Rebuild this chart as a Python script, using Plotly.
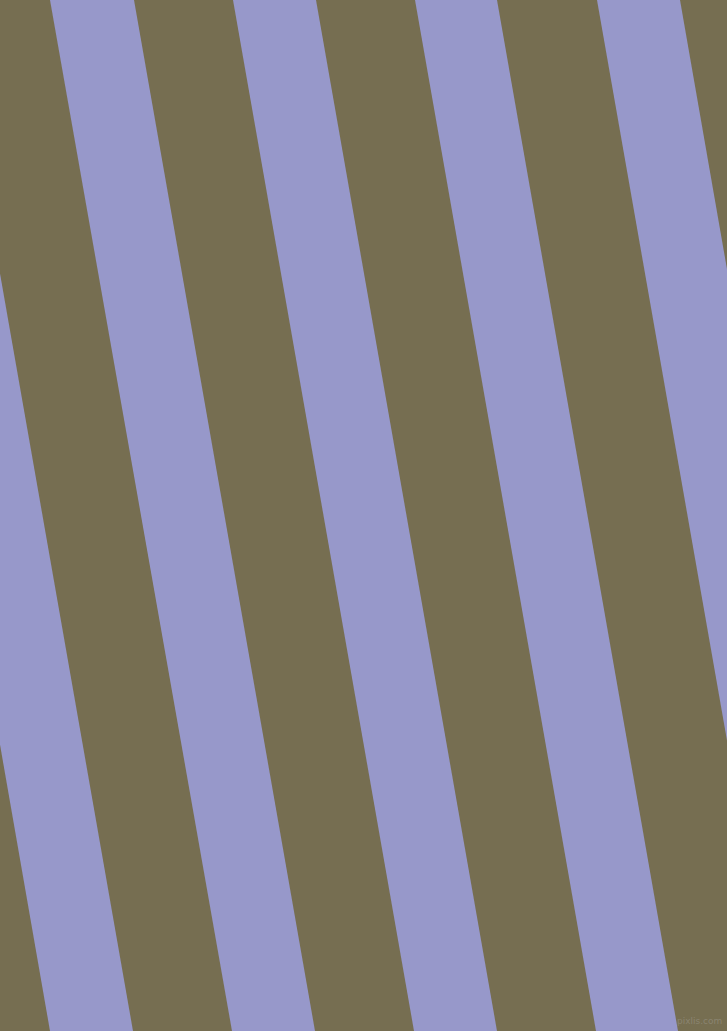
import plotly.graph_objects as go

# stripe edges (pixel x at top row and at bottom row)
top_left = [-130, 50, 233, 415, 597]
top_right = [-48, 134, 316, 497, 680]
bottom_left = [50, 232, 414, 596, 778]
bottom_right = [133, 315, 497, 678, 860]

W, H = 727, 1031
olive = "#766e51"
lavender = "#9798ca"

fig = go.Figure()

# lavender bands drawn as filled polygons, olive is the background
for tl, tr, bl, br in zip(top_left, top_right, bottom_left, bottom_right):
    fig.add_trace(go.Scatter(
        x=[tl, tr, br, bl, tl],
        y=[0, 0, H, H, 0],
        mode="lines",
        fill="toself",
        fillcolor=lavender,
        line=dict(width=0, color=lavender),
        hoverinfo="skip",
    ))

fig.add_annotation(
    x=1, y=0, xref="paper", yref="paper",
    xanchor="right", yanchor="bottom",
    text="pixlis.com", showarrow=False,
    font=dict(family="DejaVu Sans", size=9, color="#8a8470"),
    xshift=-3, yshift=3,
)

fig.update_xaxes(range=[0, W], visible=False, fixedrange=True)
fig.update_yaxes(range=[H, 0], visible=False, fixedrange=True)
fig.update_layout(
    width=W, height=H,
    margin=dict(l=0, r=0, t=0, b=0),
    plot_bgcolor=olive,
    paper_bgcolor=olive,
    showlegend=False,
)

# drop the page's default body margin so the figure sits flush at the corner
fig.write_html(
    "out.html",
    config={"displayModeBar": False},
    post_script="document.body.style.margin='0';document.body.style.overflow='hidden';",
)
